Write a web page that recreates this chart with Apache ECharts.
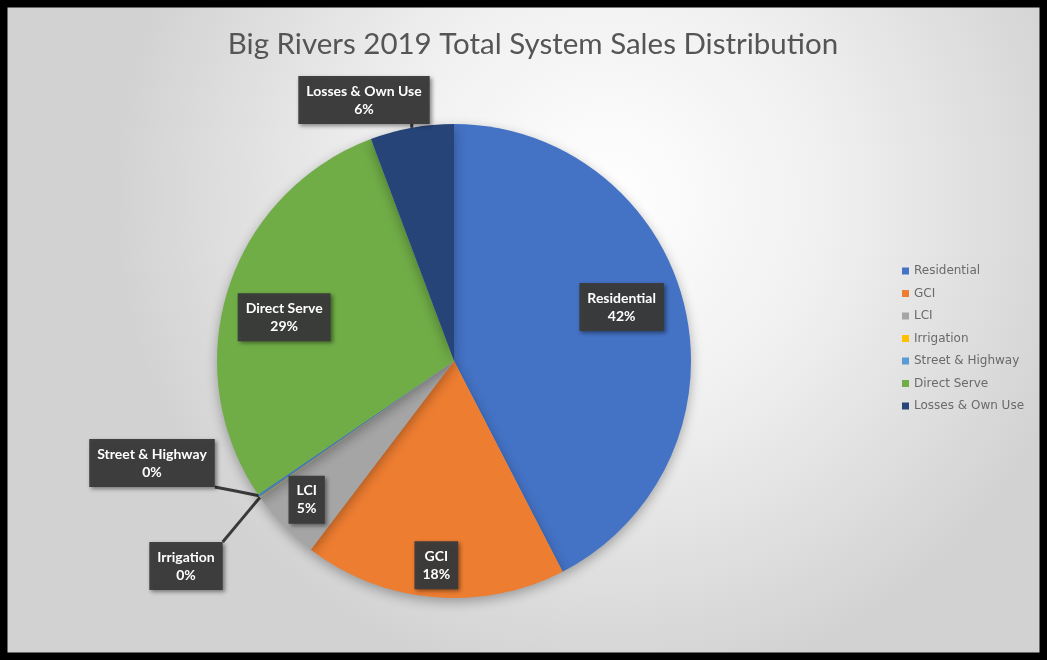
<!DOCTYPE html>
<html><head><meta charset="utf-8">
<script src="https://cdn.jsdelivr.net/npm/echarts@6/dist/echarts.min.js"></script>
<style>html,body{margin:0;padding:0;background:#fff}#c{width:1047px;height:660px}</style>
</head><body><div id="c"></div>
<script>
const categories = ['Residential','GCI','LCI','Irrigation','Street & Highway','Direct Serve','Losses & Own Use'];
const values = [42.4, 17.9, 4.9, 0.05, 0.2, 28.8, 5.7];
const colors = ['#4472C4','#ED7D31','#A5A5A5','#FFC000','#5B9BD5','#70AD47','#264478'];

// layout (not data)
const CX = 454, CY = 361, R = 237;
const labelPlace = [
  {r:0.743, da:-4.2},
  {r:0.865, da:0},
  {r:0.854, da:0.7},
  {x:186, y:566, outside:true},
  {x:152, y:463, outside:true},
  {r:0.74, da:-3.2},
  {x:364, y:100, outside:true}
];

const total = values.reduce((a,b)=>a+b,0);
let acc = 0;
const mids = values.map(v => { const m = (acc + v/2) / total * 360; acc += v; return m; });

const data = categories.map((n,i)=>({
  name: n, value: values[i],
  itemStyle: {color: colors[i]},
  label: {position: labelPlace[i].outside ? 'outside' : 'inside'},
  labelLine: {show: !!labelPlace[i].outside}
}));

const chart = echarts.init(document.getElementById('c'));
chart.setOption({
  backgroundColor: {
    type: 'radial', x: 0.58, y: 0.3, r: 0.75,
    colorStops: [{offset:0,color:'#ffffff'},{offset:0.45,color:'#f0f0f0'},{offset:1,color:'#d2d2d2'}]
  },
  title: {
    text: 'Big Rivers 2019 Total System Sales Distribution',
    left: 528, top: 24, textAlign: 'center',
    textStyle: {fontFamily: 'Lato', fontSize: 29.5, fontWeight: 'normal', color: '#555555'}
  },
  legend: {
    orient: 'vertical', left: 897, top: 260,
    itemWidth: 7, itemHeight: 7, itemGap: 10.5,
    icon: 'rect',
    data: categories,
    textStyle: {fontFamily: 'DejaVu Sans', fontSize: 12, color: '#6a6a6a'}
  },
  graphic: [{
    type: 'rect', z: 100, silent: true,
    shape: {x: 0, y: 0, width: 1047, height: 660},
    style: {fill: 'none', stroke: '#000', lineWidth: 15}
  }],
  series: [{
    type: 'pie',
    center: [CX, CY], radius: R,
    startAngle: 90, clockwise: true,
    avoidLabelOverlap: false,
    minShowLabelAngle: 0,
    animation: false,
    itemStyle: {shadowBlur: 12, shadowColor: 'rgba(0,0,0,0.3)', shadowOffsetY: 4},
    label: {
      formatter: p => p.name + '\n' + Math.round(p.percent) + '%',
      color: '#fff', fontWeight: 'bold', fontSize: 14, fontFamily: 'Lato', lineHeight: 18,
      align: 'center',
      backgroundColor: 'rgba(58,58,58,0.96)', padding: [6, 8],
      shadowBlur: 4, shadowColor: 'rgba(0,0,0,0.45)', shadowOffsetX: 2, shadowOffsetY: 2
    },
    labelLine: {lineStyle: {color: '#3a3a3a', width: 3}, length: 5, length2: 5},
    labelLayout: function (params) {
      const i = params.dataIndex;
      const p = labelPlace[i];
      let x, y;
      if (p.outside) { x = p.x; y = p.y; }
      else {
        const a = (mids[i] + p.da) * Math.PI / 180;
        x = CX + p.r * R * Math.sin(a);
        y = CY - p.r * R * Math.cos(a);
      }
      const res = {x: x, y: y, align: 'center', verticalAlign: 'middle', hideOverlap: false};
      if (p.outside) {
        const a = mids[i] * Math.PI / 180;
        const ax = CX + R * Math.sin(a), ay = CY - R * Math.cos(a);
        const w = params.labelRect.width, h = params.labelRect.height;
        const ex = Math.min(Math.max(ax, x - w/2), x + w/2);
        const ey = Math.min(Math.max(ay, y - h/2), y + h/2);
        res.labelLinePoints = [[ax, ay], [(ax+ex)/2, (ay+ey)/2], [ex, ey]];
      }
      return res;
    },
    data: data
  }]
});
</script></body></html>
